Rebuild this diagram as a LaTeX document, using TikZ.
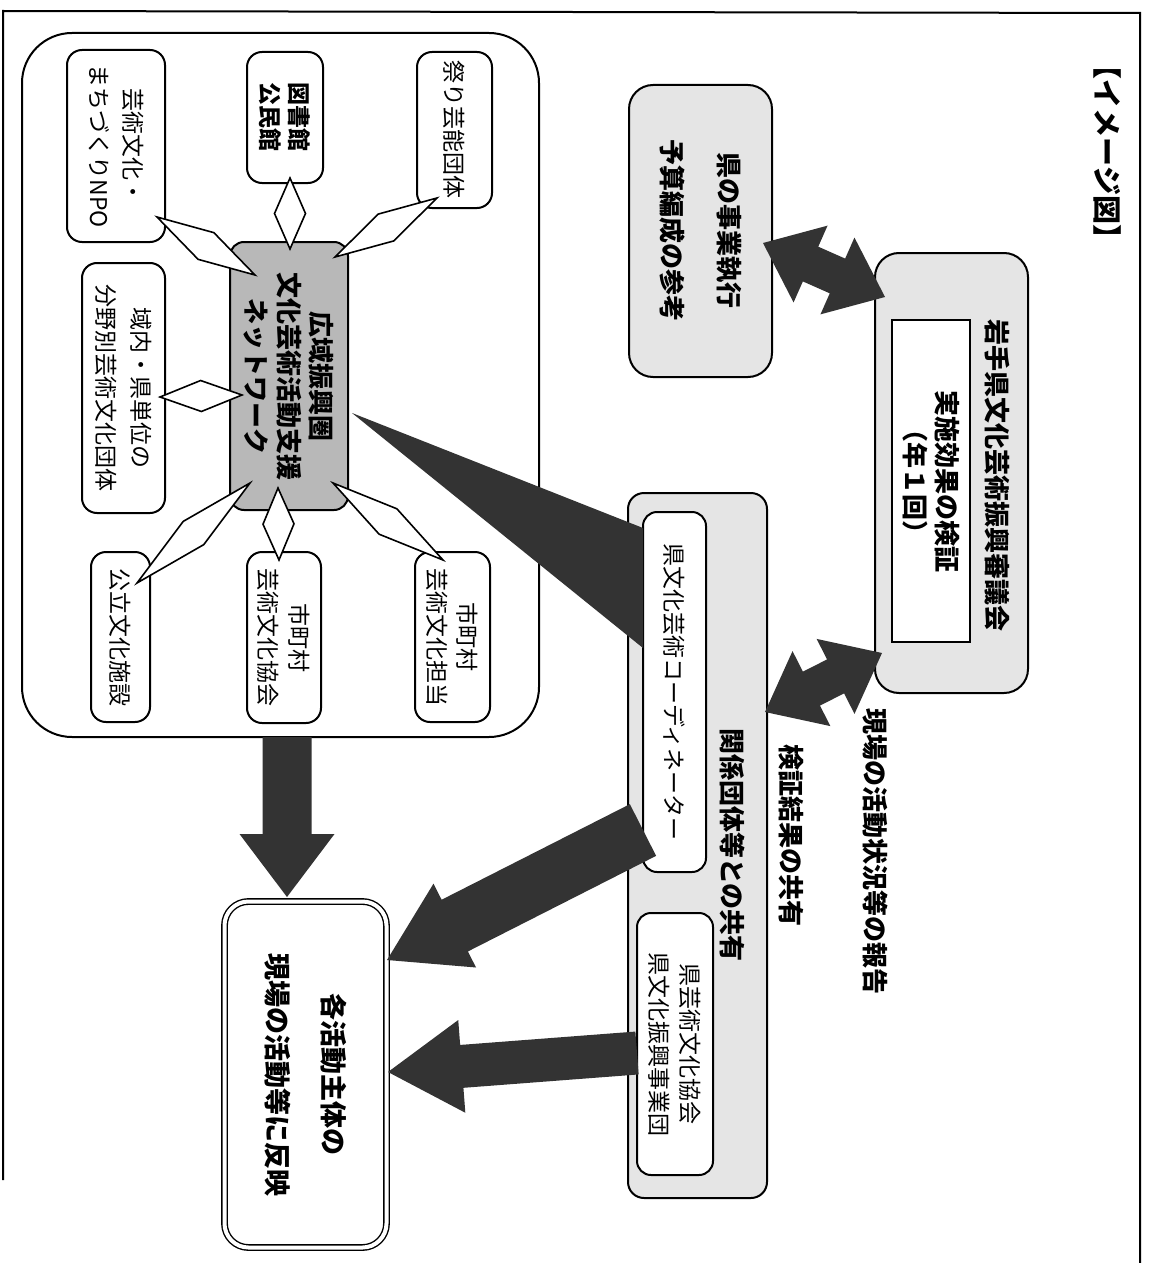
\documentclass[tikz,border=0pt]{standalone}
\usepackage{fontspec}
\setmainfont{Noto Sans CJK JP}
\usetikzlibrary{calc}
\definecolor{paleg}{gray}{0.90}
\definecolor{midg}{gray}{0.72}
\definecolor{darkf}{gray}{0.20}
\newcommand\kite[2]{%
  \path ($(#1)!0.5!(#2)$) coordinate (km);
  \draw[kitestyle] (#1) -- ($(km)!7.75pt!90:(#2)$) -- (#2) -- ($(km)!7.75pt!-90:(#2)$) -- cycle;}
\newcommand\fatarrow[5]{%
  \path ($(#2)!#3!(#1)$) coordinate (fb);
  \fill[arrowstyle] ($(#1)!#5!90:(#2)$) -- ($(fb)!#5!90:(#2)$) -- ($(fb)!#4!90:(#2)$) -- (#2)
    -- ($(fb)!#4!-90:(#2)$) -- ($(fb)!#5!-90:(#2)$) -- ($(#1)!#5!-90:(#2)$) -- cycle;}
\newcommand\dblarrow[5]{%
  \path ($(#1)!#3!(#2)$) coordinate (da) ($(#2)!#3!(#1)$) coordinate (db);
  \fill[arrowstyle] (#1) -- ($(da)!#4!90:(#2)$) -- ($(da)!#5!90:(#2)$) -- ($(db)!#5!90:(#2)$)
    -- ($(db)!#4!90:(#2)$) -- (#2) -- ($(db)!#4!-90:(#2)$) -- ($(db)!#5!-90:(#2)$)
    -- ($(da)!#5!-90:(#2)$) -- ($(da)!#4!-90:(#2)$) -- cycle;}
\tikzset{
  every node/.style={inner sep=0pt, outer sep=0pt},
  bx/.style={draw, line width=1pt, rotate=-90, align=center},
  txt/.style={rotate=-90, align=center},
  sm/.style={bx, fill=white, rounded corners=7.5pt},
  bold13/.style={font={\fontsize{13pt}{16pt}\selectfont\bfseries}},
  reg/.style={font={\fontsize{11.5pt}{#1}\selectfont}},
  regb/.style={font={\fontsize{11.5pt}{#1}\selectfont\bfseries}},
  kitestyle/.style={draw, fill=white, line width=0.8pt, line join=miter},
  arrowstyle/.style={fill=darkf},
}
\begin{document}
\begin{tikzpicture}[x=0.5pt,y=-0.5pt]
\useasboundingbox (0,0) rectangle (1149,1263);
\fill[white] (0,0) rectangle (1149,1263);
% outer frame
\draw[line width=1pt] (3,1180) -- (3,11) -- (1140,13) -- (1140,1263);

\node[txt, font={\fontsize{14.5pt}{16pt}\selectfont\bfseries}] (title) at (1108,152) {【イメージ図】};

% right column
\node[bx, fill=paleg, rounded corners=12pt, minimum width=146pt, minimum height=71.5pt,
  font={\fontsize{13pt}{28.5pt}\selectfont\bfseries}] (jigyo) at (700.5,231) {県の事業執行\\予算編成の参考};
\node[bx, fill=paleg, rounded corners=12pt, minimum width=220pt, minimum height=76.5pt] (shingi) at (951.5,473) {};
\node[bx, fill=white, line width=0.8pt, minimum width=161pt, minimum height=39pt,
  font={\fontsize{13pt}{16pt}\selectfont\bfseries}] (kensho) at (931,481) {実施効果の検証\\（年１回）};
\node[txt, bold13] (shingiT) at (997,475) {岩手県文化芸術振興審議会};

\node[bx, fill=paleg, rounded corners=8pt, minimum width=352.5pt, minimum height=69.5pt] (kankei) at (697.5,845.5) {};
\node[txt, bold13] (kankeiT) at (732,845) {関係団体等との共有};
\node[bx, fill=white, rounded corners=7pt, minimum width=180pt, minimum height=31.5pt, reg=14pt] (coord) at (674.5,692) {県文化芸術コーディネーター};
\node[bx, fill=white, rounded corners=7pt, minimum width=131pt, minimum height=38pt, reg=15.5pt] (bunka) at (675,1044) {県芸術文化協会\\県文化振興事業団};

\node[txt, bold13] (hokoku) at (875,851) {現場の活動状況等の報告};
\node[txt, bold13] (kyoyu) at (791,835) {検証結果の共有};

% network region
\node[bx, fill=white, rounded corners=25pt, minimum width=352pt, minimum height=258.5pt] (region) at (280.5,385) {};
\node[sm, minimum width=78pt, minimum height=37.5pt, reg=14pt] (matsuri) at (454.5,130) {祭り芸能団体};
\node[sm, minimum width=65.5pt, minimum height=38pt, regb=14.5pt] (tosho) at (285,117.5) {図書館\\公民館};
\node[sm, minimum width=96pt, minimum height=49pt, reg=17pt] (npo) at (116,146) {芸術文化・\\まちづくりNPO};
\node[sm, minimum width=125pt, minimum height=41.5pt, reg=17.5pt] (ikinai) at (123.5,388) {域内・県単位の\\分野別芸術文化団体};
\node[sm, minimum width=85pt, minimum height=37.5pt, reg=15pt] (tanto) at (452.5,637) {市町村\\芸術文化担当};
\node[sm, minimum width=85.5pt, minimum height=37pt, reg=15.5pt] (kyokai) at (284,637.5) {市町村\\芸術文化協会};
\node[sm, minimum width=85pt, minimum height=29.5pt, reg=14pt] (koritsu) at (120.5,637) {公立文化施設};
\node[bx, fill=midg, rounded corners=7pt, minimum width=134pt, minimum height=59pt,
  font={\fontsize{13pt}{16.25pt}\selectfont\bfseries}] (net) at (289,376) {広域振興圏\\文化芸術活動支援\\ネットワーク};

% kite connectors
\coordinate (k1a) at (335,257); \coordinate (k1b) at (437,198);
\coordinate (k2a) at (290,249); \coordinate (k2b) at (290,178);
\coordinate (k3a) at (255,275); \coordinate (k3b) at (157,217);
\coordinate (k4a) at (242,395); \coordinate (k4b) at (160,397);
\coordinate (k5a) at (250,483); \coordinate (k5b) at (137,583);
\coordinate (k6a) at (278,488); \coordinate (k6b) at (279,560);
\coordinate (k7a) at (333,483); \coordinate (k7b) at (443,560);
\kite{k1a}{k1b}
\kite{k2a}{k2b}
\kite{k3a}{k3b}
\kite{k4a}{k4b}
\kite{k5a}{k5b}
\kite{k6a}{k6b}
\kite{k7a}{k7b}

% target box
\node[bx, fill=white, line width=0.7pt, double, double distance=2pt, rounded corners=12pt,
  minimum width=173pt, minimum height=81pt,
  font={\fontsize{13.5pt}{28pt}\selectfont\bfseries}] (kaku) at (305.5,1074.5) {各活動主体の\\現場の活動等に反映};

% wedge from network to coordinator
\coordinate (wa) at (352,413);
\coordinate (wb) at (643,528);
\coordinate (wc) at (643,648);
\fill[arrowstyle] (wa) -- (wb) -- (wc) -- cycle;

% double arrows
\coordinate (d1a) at (763,243); \coordinate (d1b) at (885,297);
\dblarrow{d1a}{d1b}{26pt}{21pt}{9.5pt}
\coordinate (d2a) at (765,712); \coordinate (d2b) at (882,653);
\dblarrow{d2a}{d2b}{26pt}{21pt}{9.5pt}

% fat arrows to target
\coordinate (f1t) at (643,830); \coordinate (f1h) at (387,960);
\fatarrow{f1t}{f1h}{38pt}{23.5pt}{14.5pt}
\coordinate (f2t) at (637,1053); \coordinate (f2h) at (388,1072);
\fatarrow{f2t}{f2h}{37pt}{23.25pt}{10.75pt}
\coordinate (f3t) at (287,737); \coordinate (f3h) at (287,897);
\fatarrow{f3t}{f3h}{31.5pt}{23.75pt}{12.25pt}
\end{tikzpicture}
\end{document}
